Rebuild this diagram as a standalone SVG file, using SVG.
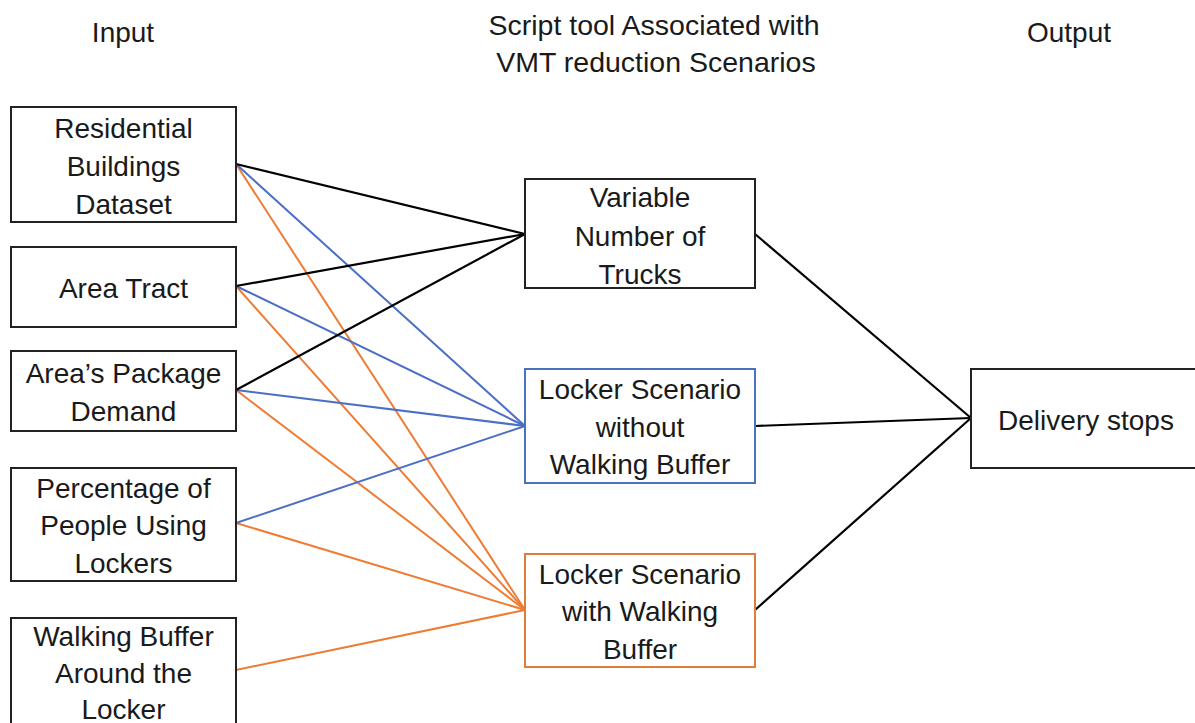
<svg xmlns="http://www.w3.org/2000/svg" width="1195" height="723" viewBox="0 0 1195 723">
<style>
text{font-family:"Liberation Sans",Arial,sans-serif;font-size:28px;fill:#1a1a1a;text-anchor:middle}
.hd{font-size:28.5px}
.box{fill:#fff;stroke:#222;stroke-width:2}
.boxb{fill:#fff;stroke:#4a72c0;stroke-width:2}
.boxo{fill:#fff;stroke:#e07b3a;stroke-width:2}
.k{stroke:#000;stroke-width:2.2;fill:none}
.b{stroke:#4a6fc4;stroke-width:2;fill:none}
.o{stroke:#ee7c33;stroke-width:2;fill:none}
</style>
<rect width="1195" height="723" fill="#fff"/>
<g id="headers">
<text x="123" y="42">Input</text>
<text class="hd" x="654" y="35">Script tool Associated with</text>
<text class="hd" x="656" y="72">VMT reduction Scenarios</text>
<text x="1069" y="42">Output</text>
</g>
<g id="connectors">
<line class="o" x1="236" y1="164" x2="525" y2="610"/>
<line class="o" x1="236" y1="286" x2="525" y2="610"/>
<line class="o" x1="236" y1="390" x2="525" y2="610"/>
<line class="o" x1="236" y1="523" x2="525" y2="610"/>
<line class="o" x1="236" y1="670" x2="525" y2="610"/>
<line class="b" x1="236" y1="164" x2="525" y2="426"/>
<line class="b" x1="236" y1="286" x2="525" y2="426"/>
<line class="b" x1="236" y1="390" x2="525" y2="426"/>
<line class="b" x1="236" y1="523" x2="525" y2="426"/>
<line class="k" x1="236" y1="164" x2="525" y2="234"/>
<line class="k" x1="236" y1="286" x2="525" y2="234"/>
<line class="k" x1="236" y1="390" x2="525" y2="234"/>
<line class="k" x1="755" y1="234" x2="971" y2="418"/>
<line class="k" x1="755" y1="426" x2="971" y2="418"/>
<line class="k" x1="755" y1="610" x2="971" y2="418"/>
</g>
<g id="residential">
<rect class="box" x="11" y="107" width="225" height="115"/>
<text x="123.5" y="138">Residential</text>
<text x="123.5" y="176">Buildings</text>
<text x="123.5" y="214">Dataset</text>
</g>
<g id="area-tract">
<rect class="box" x="11" y="247" width="225" height="80"/>
<text x="123.5" y="298">Area Tract</text>
</g>
<g id="package-demand">
<rect class="box" x="11" y="351" width="225" height="80"/>
<text x="123.5" y="383">Area’s Package</text>
<text x="123.5" y="421">Demand</text>
</g>
<g id="percentage">
<rect class="box" x="11" y="468" width="225" height="113"/>
<text x="123.5" y="498">Percentage of</text>
<text x="123.5" y="535">People Using</text>
<text x="123.5" y="573">Lockers</text>
</g>
<g id="walking-buffer">
<rect class="box" x="11" y="618" width="225" height="115"/>
<text x="123.5" y="646">Walking Buffer</text>
<text x="123.5" y="683">Around the</text>
<text x="123.5" y="719">Locker</text>
</g>
<g id="variable-trucks">
<rect class="box" x="525" y="179" width="230" height="109"/>
<text x="640" y="207">Variable</text>
<text x="640" y="246">Number of</text>
<text x="640" y="284">Trucks</text>
</g>
<g id="locker-without">
<rect class="boxb" x="525" y="369" width="230" height="114"/>
<text x="640" y="399">Locker Scenario</text>
<text x="640" y="437">without</text>
<text x="640" y="474">Walking Buffer</text>
</g>
<g id="locker-with">
<rect class="boxo" x="525" y="554" width="230" height="113"/>
<text x="640" y="584">Locker Scenario</text>
<text x="640" y="621">with Walking</text>
<text x="640" y="659">Buffer</text>
</g>
<g id="delivery-stops">
<rect class="box" x="971" y="369" width="240" height="99"/>
<text x="1086" y="430">Delivery stops</text>
</g>
</svg>
